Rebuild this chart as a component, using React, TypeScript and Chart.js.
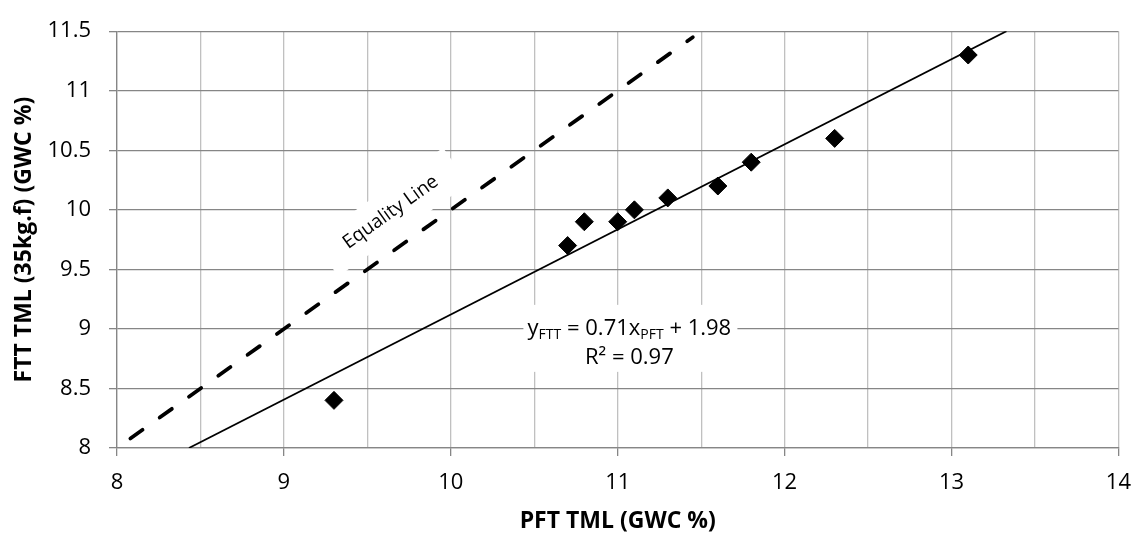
import React, { useEffect, useRef } from 'react';
import { Chart, registerables } from 'chart.js';

Chart.register(...registerables);

// ---- data ----
const PFT_TML = [9.3, 10.7, 10.8, 11.0, 11.1, 11.3, 11.6, 11.8, 12.3, 13.1];
const FTT_TML = [8.4, 9.7, 9.9, 9.9, 10.0, 10.1, 10.2, 10.4, 10.6, 11.3];
const EQUALITY_RANGE = [8.08, 11.45];
const X_RANGE = [8, 14];
const Y_RANGE = [8, 11.5];
const TICK_STEP = [0.5];
const X_TITLE = 'PFT TML (GWC %)';
const Y_TITLE = 'FTT TML (35kg.f) (GWC %)';
const EQUATION_PARTS = ['y', 'FTT', ' = 0.71x', 'PFT', ' + 1.98'];
const R2_TEXT = ['R² = 0.97'];
const EQUALITY_LABEL = ['Equality Line'];
// label anchors (data coordinates)
const EQ_ANCHOR = [11.07, 8.95];
const EQUALITY_ANCHOR = [9.64, 9.98];

const FONT = '"Open Sans", "Noto Sans", sans-serif';

function regression(xs: number[], ys: number[]) {
  const n = xs.length;
  const mx = xs.reduce((a, b) => a + b, 0) / n;
  const my = ys.reduce((a, b) => a + b, 0) / n;
  let sxy = 0;
  let sxx = 0;
  for (let i = 0; i < n; i++) {
    sxy += (xs[i] - mx) * (ys[i] - my);
    sxx += (xs[i] - mx) * (xs[i] - mx);
  }
  const m = sxy / sxx;
  return { m, b: my - m * mx };
}

const labelsPlugin = {
  id: 'labelsPlugin',
  beforeDatasetsDraw(chart: any) {
    const { ctx, scales } = chart;
    const xs = scales.x;
    const ys = scales.y;

    // Equality line label
    const ex = xs.getPixelForValue(EQUALITY_ANCHOR[0]);
    const ey = ys.getPixelForValue(EQUALITY_ANCHOR[1]);
    const dxp = xs.getPixelForValue(11) - xs.getPixelForValue(8);
    const dyp = ys.getPixelForValue(11) - ys.getPixelForValue(8);
    const ang = Math.atan2(dyp, dxp);
    ctx.save();
    ctx.translate(ex, ey);
    ctx.rotate(ang);
    ctx.fillStyle = '#ffffff';
    ctx.fillRect(-80, -22, 160, 44);
    ctx.fillStyle = '#000000';
    ctx.font = `19px ${FONT}`;
    ctx.textAlign = 'center';
    ctx.textBaseline = 'middle';
    ctx.fillText(EQUALITY_LABEL[0], 0, 0);
    ctx.restore();

    // Equation label
    const cx = xs.getPixelForValue(EQ_ANCHOR[0]);
    const by = ys.getPixelForValue(EQ_ANCHOR[1]);
    ctx.save();
    ctx.fillStyle = '#ffffff';
    ctx.fillRect(cx - 106, by - 30, 214, 67);
    const mainFont = `22px ${FONT}`;
    const subFont = `14px ${FONT}`;
    let total = 0;
    const widths = EQUATION_PARTS.map((t, i) => {
      ctx.font = i % 2 === 1 ? subFont : mainFont;
      const w = ctx.measureText(t).width;
      total += w;
      return w;
    });
    let x = cx - total / 2;
    ctx.fillStyle = '#000000';
    ctx.textAlign = 'left';
    ctx.textBaseline = 'alphabetic';
    EQUATION_PARTS.forEach((t, i) => {
      const sub = i % 2 === 1;
      ctx.font = sub ? subFont : mainFont;
      ctx.fillText(t, x, sub ? by + 4 : by);
      x += widths[i];
    });
    ctx.font = mainFont;
    ctx.textAlign = 'center';
    ctx.fillText(R2_TEXT[0], cx, by + 29.5);
    ctx.restore();
  },
};

export default function App() {
  const canvasRef = useRef<HTMLCanvasElement | null>(null);

  useEffect(() => {
    if (!canvasRef.current) return;
    const { m, b } = regression(PFT_TML, FTT_TML);
    const trend = [
      { x: (Y_RANGE[0] - b) / m, y: Y_RANGE[0] },
      { x: (Y_RANGE[1] - b) / m, y: Y_RANGE[1] },
    ];
    const points = PFT_TML.map((v, i) => ({ x: v, y: FTT_TML[i] }));
    const equality = EQUALITY_RANGE.map((v) => ({ x: v, y: v }));

    const chart = new Chart(canvasRef.current, {
      type: 'scatter',
      data: {
        datasets: [
          {
            label: 'Data',
            data: points,
            pointStyle: 'rectRot',
            pointRadius: 9,
            pointBorderWidth: 1,
            backgroundColor: '#000000',
            borderColor: '#000000',
            showLine: false,
          },
          {
            label: 'Trend',
            data: trend,
            showLine: true,
            pointRadius: 0,
            borderColor: '#000000',
            borderWidth: 1.75,
          },
          {
            label: 'Equality',
            data: equality,
            showLine: true,
            pointRadius: 0,
            borderColor: '#000000',
            borderWidth: 3.75,
            borderDash: [15, 21],
            borderCapStyle: 'round',
          },
        ],
      },
      options: {
        responsive: true,
        maintainAspectRatio: false,
        animation: false,
        events: [],
        layout: { padding: { top: 22, right: 20, left: 0, bottom: 0 } },
        plugins: {
          legend: { display: false },
          tooltip: { enabled: false },
        },
        scales: {
          x: {
            type: 'linear',
            min: X_RANGE[0],
            max: X_RANGE[1],
            afterFit: (s: any) => {
              s.height = 87;
            },
            ticks: {
              stepSize: TICK_STEP[0],
              autoSkip: false,
              maxRotation: 0,
              padding: 14,
              color: '#000000',
              font: { family: FONT, size: 22 },
              callback: (v: any) => (Number.isInteger(Number(v)) ? String(v) : ''),
            },
            grid: {
              color: '#c0c0c0',
              lineWidth: 1.3,
              tickLength: 8,
              tickColor: (ctx: any) =>
                ctx.tick && Number.isInteger(ctx.tick.value) ? '#868686' : 'rgba(0,0,0,0)',
            },
            border: { color: '#868686', width: 1.3 },
            title: {
              display: true,
              text: X_TITLE,
              color: '#000000',
              font: { family: FONT, size: 23, weight: 'bold' },
              padding: { top: 0, bottom: 0 },
            },
          },
          y: {
            type: 'linear',
            min: Y_RANGE[0],
            max: Y_RANGE[1],
            afterFit: (s: any) => {
              s.width = 117;
            },
            ticks: {
              stepSize: TICK_STEP[0],
              autoSkip: false,
              padding: 18,
              color: '#000000',
              font: { family: FONT, size: 22 },
              callback: (v: any) => String(v),
            },
            grid: {
              color: '#868686',
              lineWidth: 1.3,
              tickLength: 8,
              tickColor: '#868686',
            },
            border: { color: '#868686', width: 1.3 },
            title: {
              display: true,
              text: Y_TITLE,
              color: '#000000',
              font: { family: FONT, size: 23, weight: 'bold' },
              padding: { top: 11, bottom: 0 },
            },
          },
        },
      },
      plugins: [labelsPlugin],
    } as any);

    return () => chart.destroy();
  }, []);

  return (
    <div style={{ position: 'absolute', left: 0, top: 0, width: 1145, height: 535, background: '#ffffff' }}>
      <canvas ref={canvasRef} />
    </div>
  );
}
